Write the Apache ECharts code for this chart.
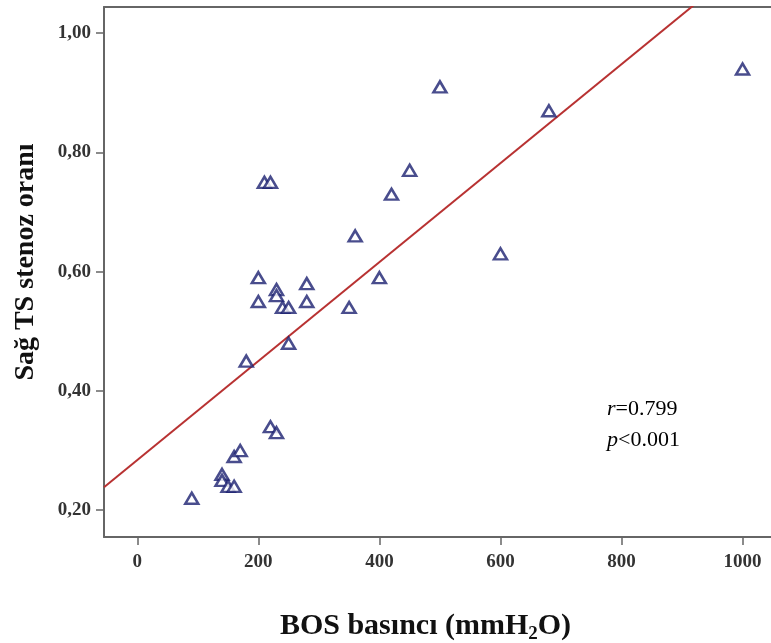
<!DOCTYPE html>
<html>
<head>
<meta charset="utf-8">
<script src="https://cdn.jsdelivr.net/npm/echarts@6/dist/echarts.min.js"></script>
<style>
  html, body { margin: 0; padding: 0; background: #fff; }
  #chart { width: 771px; height: 643px; }
</style>
</head>
<body>
<div id="chart"></div>
<script>
// BOS basıncı (mmH2O) vs Sağ TS stenoz oranı
const basinc = [90, 140, 140, 150, 160, 160, 170, 220, 230,
  180, 200, 200, 210, 220, 230, 230, 240, 250, 250, 280, 280, 350,
  360, 400, 420, 450, 500, 600, 680, 1000];
const oran = [0.22, 0.26, 0.25, 0.24, 0.24, 0.29, 0.30, 0.34, 0.33,
  0.45, 0.59, 0.55, 0.75, 0.75, 0.57, 0.56, 0.54, 0.54, 0.48, 0.58, 0.55, 0.54,
  0.66, 0.59, 0.73, 0.77, 0.91, 0.63, 0.87, 0.94];
const xTicks = [0, 200, 400, 600, 800, 1000];
const yTicks = [0.2, 0.4, 0.6, 0.8, 1.0];
// fit line
const fitIntercept = 0.284;
const fitSlope = 0.00083;

const xMin = -55, xMax = 1047;
const yMin = 0.155, yMax = 1.044;

const points = basinc.map((x, i) => [x, oran[i]]);
const fitLine = [[xMin, fitIntercept + fitSlope * xMin], [xMax, fitIntercept + fitSlope * xMax]];

const tickFont = { fontFamily: "Liberation Serif", fontSize: 19, fontWeight: "bold", color: "#333" };

const chart = echarts.init(document.getElementById("chart"));
chart.setOption({
  animation: false,
  grid: { left: 104, top: 7, right: 0, bottom: 106, show: false, containLabel: false, outerBoundsMode: "none" },
  xAxis: [
    {
      type: "value", min: xMin, max: xMax,
      splitLine: { show: false },
      axisLine: { onZero: false, lineStyle: { color: "#666", width: 2 } },
      axisTick: { customValues: xTicks, length: 8, lineStyle: { color: "#666", width: 1.5 } },
      axisLabel: { customValues: xTicks, margin: 16, ...tickFont, formatter: (v) => String(v) },
      name: "{n|BOS basıncı (mmH}{s|2}{n|O)}",
      nameLocation: "middle", nameGap: 72,
      nameTextStyle: {
        padding: [0, 24, 0, 0],
        rich: {
          n: { fontFamily: "Liberation Serif", fontSize: 30, fontWeight: "bold", color: "#111" },
          s: { fontFamily: "Liberation Serif", fontSize: 19, fontWeight: "bold", color: "#111", verticalAlign: "bottom", padding: [16, 0, 0, 0] }
        }
      }
    },
    {
      type: "value", position: "top", min: xMin, max: xMax,
      splitLine: { show: false },
      axisLine: { show: true, lineStyle: { color: "#666", width: 2 } },
      axisTick: { show: false }, axisLabel: { show: false }
    }
  ],
  yAxis: {
    type: "value", min: yMin, max: yMax,
    splitLine: { show: false },
    axisLine: { show: true, onZero: false, lineStyle: { color: "#666", width: 2 } },
    axisTick: { show: true, customValues: yTicks, length: 8, lineStyle: { color: "#666", width: 1.5 } },
    axisLabel: {
      customValues: yTicks, margin: 13, ...tickFont,
      formatter: (v) => v.toFixed(2).replace(".", ",")
    },
    name: "Sağ TS stenoz oranı",
    nameLocation: "middle", nameGap: 64,
    nameTextStyle: { fontFamily: "Liberation Serif", fontSize: 28, fontWeight: "bold", color: "#111", padding: [0, 0, 0, 20] }
  },
  series: [
    {
      type: "line", data: fitLine, clip: true, symbol: "none",
      lineStyle: { color: "#b83232", width: 2 }, z: 1
    },
    {
      type: "scatter", data: points, symbol: "triangle", symbolSize: [13, 11],
      itemStyle: { color: "#fff", borderColor: "#1c2070", borderWidth: 2.5 }, z: 2
    }
  ],
  graphic: [
    {
      type: "text", left: 607, top: 398,
      style: {
        text: "{i|r}{t|=0.799}\n{i|p}{t|<0.001}",
        rich: {
          i: { fontFamily: "Liberation Serif", fontStyle: "italic", fontSize: 22, color: "#111", lineHeight: 31 },
          t: { fontFamily: "Liberation Serif", fontSize: 22, color: "#111", lineHeight: 31 }
        }
      }
    }
  ]
});
</script>
</body>
</html>
